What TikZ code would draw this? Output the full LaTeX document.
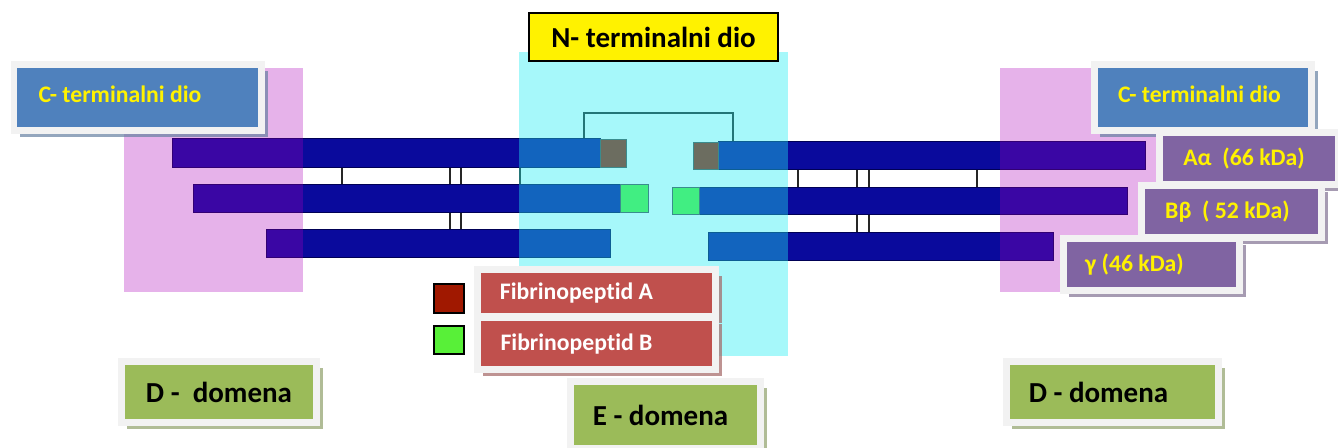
\documentclass[tikz,border=0pt]{standalone}
\usepackage{fontspec}
\setmainfont{Carlito}[Ligatures=NoCommon]
\usetikzlibrary{shadows}
\definecolor{navy}{HTML}{0A0A9C}
\definecolor{navyline}{HTML}{000055}
\definecolor{orchid}{RGB}{172,0,185}
\definecolor{aqua}{RGB}{32,237,242}
\definecolor{steel}{HTML}{4F81BD}
\definecolor{lilac}{HTML}{8064A2}
\definecolor{brick}{HTML}{C0504D}
\definecolor{leaf}{HTML}{9BBB59}
\definecolor{framegray}{HTML}{F2F2F2}
\definecolor{fpa}{HTML}{A01800}
\definecolor{fpb}{HTML}{58F038}

\begin{document}
\begin{tikzpicture}[x=0.02cm, y=-0.02cm,
  lbl/.style={fill=#1, draw=framegray, line width=0.14cm,
    drop shadow={shadow xshift=0.12cm, shadow yshift=-0.12cm, fill=#1!55!gray, opacity=0.7}},
  small/.style={font=\bfseries\fontsize{13.5}{16}\selectfont},
  big/.style={font=\bfseries\fontsize{16.5}{20}\selectfont}]

\useasboundingbox (0,0) rectangle (1338,448);

% chains
\tikzstyle{every node}=[anchor=north west, inner sep=0pt, fill=navy, draw=navyline, line width=0.8pt]
\node[minimum width=8.56cm, minimum height=0.58cm] (aL) at (172,138) {};
\node[minimum width=8.54cm, minimum height=0.56cm] (aR) at (718,141) {};
\node[minimum width=8.54cm, minimum height=0.56cm] (bL) at (193,184) {};
\node[minimum width=8.56cm, minimum height=0.54cm] (bR) at (699,187) {};
\node[minimum width=6.88cm, minimum height=0.56cm] (gL) at (266,229) {};
\node[minimum width=6.90cm, minimum height=0.56cm] (gR) at (708,232) {};

% fibrinopeptides on the chain ends
\tikzstyle{every node}=[anchor=north west, inner sep=0pt, draw=black!70, line width=0.8pt]
\node[fill=fpa, minimum width=0.52cm, minimum height=0.56cm] (sqAL) at (600,139) {};
\node[fill=fpa, minimum width=0.50cm, minimum height=0.54cm] (sqAR) at (693,142) {};
\node[fill=fpb, minimum size=0.56cm] (sqBL) at (620,184) {};
\node[fill=fpb, minimum size=0.54cm] (sqBR) at (672,187) {};

% disulfide bridges
\tikzstyle{bond}=[draw=black!85, line width=1.1pt]
\foreach \x in {342,450,461,520}
  \draw[bond] (aL.south -| \x,0) -- (bL.north -| \x,0);
\foreach \x in {450,461}
  \draw[bond] (bL.south -| \x,0) -- (gL.north -| \x,0);
\foreach \x in {798,857,869,977}
  \draw[bond] (aR.south -| \x,0) -- (bR.north -| \x,0);
\foreach \x in {857,869}
  \draw[bond] (bR.south -| \x,0) -- (gR.north -| \x,0);
\draw[bond] (aL.north -| 584,0) -- (584,113) -| (aR.north -| 733,0);

% domains
\fill[orchid, opacity=0.3] (124,68) rectangle (303,292);
\fill[orchid, opacity=0.3] (1000,68) rectangle (1160,292);
\fill[aqua, opacity=0.4] (519,52) rectangle (788,356);

% labels
\tikzstyle{every node}=[anchor=north west, inner sep=0pt]
\node[fill=yellow, draw=black, line width=1.2pt, big, minimum width=4.98cm, minimum height=0.96cm] (nterm) at (528,12) {N- terminalni dio};

\node[lbl=steel, small, text=yellow, text depth=0.4em, minimum width=4.96cm, minimum height=1.32cm] (ctermL) at (10.5,61.5) {C- terminalni dio\hspace*{0.72cm}};
\node[lbl=steel, small, text=yellow, text depth=0.4em, minimum width=4.36cm, minimum height=1.32cm] (ctermR) at (1090.5,61.5) {C- terminalni dio\hspace*{0.14cm}};

\node[lbl=lilac, small, text=yellow, minimum width=3.60cm, minimum height=1.04cm] (alpha) at (1155.5,129.5) {Aα\ \ (66 kDa)\hspace*{0.2cm}};
\node[lbl=lilac, small, text=yellow, minimum width=3.62cm, minimum height=1.04cm] (beta) at (1137.5,182.5) {Bβ\ \ ( 52 kDa)\hspace*{0.16cm}};
\node[lbl=lilac, small, text=yellow, minimum width=3.54cm, minimum height=1.04cm] (gamma) at (1059.5,235.5) {γ (46 kDa)\hspace*{0.68cm}};

\node[fill=fpa, draw=black, line width=1.2pt, minimum width=0.6cm, minimum height=0.58cm] (keyA) at (433,283) {};
\node[fill=fpb, draw=black, line width=1.2pt, minimum width=0.6cm, minimum height=0.56cm] (keyB) at (433,325) {};
\node[lbl=brick, small, text=white, minimum width=4.78cm, minimum height=0.94cm] (fibA) at (473.5,266.5) {Fibrinopeptid A\hspace*{0.8cm}};
\node[lbl=brick, small, text=white, minimum width=4.78cm, minimum height=1.04cm] (fibB) at (473.5,314.5) {Fibrinopeptid B\hspace*{0.8cm}};

\node[lbl=leaf, big, minimum width=3.92cm, minimum height=1.22cm] (domDL) at (117.5,358.5) {D -\ \ domena};
\node[lbl=leaf, big, minimum width=4.26cm, minimum height=1.22cm] (domDR) at (1002.5,358.5) {D - domena\hspace*{0.56cm}};
\node[lbl=leaf, big, minimum width=3.82cm, minimum height=1.34cm] (domE) at (566.5,378.5) {E - domena\hspace*{0.2cm}};

\end{tikzpicture}
\end{document}
